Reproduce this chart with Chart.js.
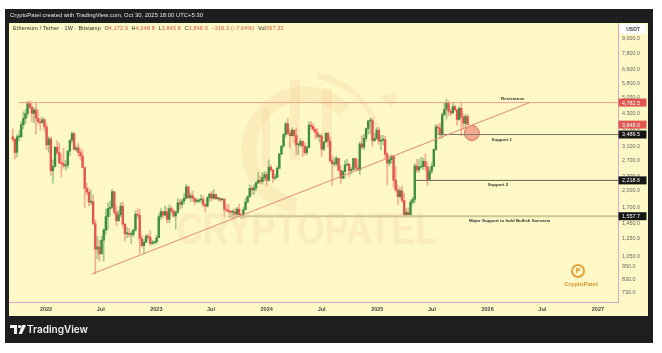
<!DOCTYPE html>
<html>
<head>
<meta charset="utf-8">
<script src="https://cdn.jsdelivr.net/npm/chart.js@4.4.1/dist/chart.umd.min.js"></script>
<style>
html, body { margin: 0; padding: 0; background: #fff; }
#wrap { position: relative; width: 662px; height: 353px; overflow: hidden; }
#chart { position: absolute; left: 0; top: 0; }
.txt { position: absolute; white-space: nowrap; line-height: 1; font-family: 'Liberation Sans', Arial, sans-serif; }
#hdr { left: 10px; top: 13px; font-size: 5.8px; color: #e6e6e6; letter-spacing: 0.05px; }
#sym { left: 13px; top: 26px; font-size: 5.4px; color: #2a2a2a; letter-spacing: 0.2px; }
#sym .r { color: #e0533f; }
#tv { left: 27px; top: 324px; font-family: Inter, 'Open Sans', sans-serif; font-weight: 600; font-size: 10px; color: #f2f2f2; }
</style>
</head>
<body>
<div id="wrap">
  <canvas id="chart" width="662" height="353"></canvas>
  <div class="txt" id="hdr">CryptoPatel created with TradingView.com, Oct 30, 2025 18:00 UTC+5:30</div>
  <div class="txt" id="sym">Ethereum / Tether · 1W · Bitstamp&nbsp;&nbsp;O<span class="r">4,172.9</span>&nbsp;&nbsp;H<span class="r">4,248.8</span>&nbsp;&nbsp;L<span class="r">3,845.8</span>&nbsp;&nbsp;C<span class="r">3,848.0</span>&nbsp;&nbsp;<span class="r">−318.3 (−7.64%)</span>&nbsp;&nbsp;Vol<span class="r">397.32</span></div>
  <div class="txt" id="tv">TradingView</div>
</div>
<script>
const DAY = 864e5;

// weekly candles, first one opens Mon 13 Sep 2021
const firstWeek = Date.UTC(2021, 8, 13);
const firstOpen = 3410;

const closes = [
  // 2021
  3330, 2925, 3410, 3415, 3845, 4085, 4290, 4730, 4570, 4300, 4450, 4090, 3960, 3920, 4040, 3760,
  // 2022
  3150, 3340, 2440, 2550, 3080, 2920, 2640, 2620, 2560, 2580, 2960, 3300, 3520, 3010, 3060, 2920, 2830,
  2520, 2050, 1975, 1790, 1800, 1450, 1125, 1150, 1075, 1230, 1360, 1550, 1680, 1700, 1985, 1620, 1490,
  1580, 1720, 1440, 1310, 1310, 1300, 1300, 1360, 1590, 1570, 1250, 1165, 1205, 1280, 1265, 1190, 1200, 1210,
  // 2023
  1260, 1550, 1630, 1575, 1630, 1510, 1680, 1640, 1560, 1620, 1780, 1750, 1810, 1860, 2080, 1870, 1910,
  1860, 1800, 1810, 1830, 1840, 1750, 1720, 1870, 1940, 1860, 1930, 1850, 1855, 1830, 1840, 1670, 1650,
  1630, 1620, 1620, 1590, 1670, 1580, 1560, 1660, 1790, 1890, 2050, 2020, 2060, 2160, 2220, 2190, 2280, 2350,
  // 2024
  2220, 2530, 2460, 2270, 2290, 2500, 2880, 3110, 3490, 3880, 3520, 3450, 3640, 3450, 3150, 3150, 3260, 3110,
  2920, 3070, 3830, 3780, 3670, 3560, 3420, 3440, 3020, 3240, 3530, 3270, 2690, 2610, 2610, 2760, 2450,
  2270, 2420, 2580, 2600, 2440, 2470, 2750, 2510, 2460, 3180, 3080, 3360, 3700, 3990, 4000, 3280, 3360, 3640,
  // 2025
  3270, 3300, 3320, 2870, 2630, 2720, 2820, 2220, 2020, 1890, 2000, 1820, 1580, 1620, 1580, 1790, 1840,
  2560, 2460, 2530, 2540, 2680, 2540, 2240, 2430, 2550, 3010, 3760, 3720, 3480, 4250, 4480, 4780, 4390,
  4320, 4600, 4450, 4050, 4520, 4150, 3900, 4166.3, 3848.0
];

const highs = [
  // 2021
  3680, 3350, 3480, 3630, 3960, 4370, 4460, 4830, 4868, 4770, 4550, 4780, 4450, 4100, 4150, 4100,
  // 2022
  3880, 3420, 3400, 2720, 3100, 3280, 3200, 2880, 3050, 2700, 2990, 3300, 3580, 3560, 3120, 3190, 3030,
  3000, 2530, 2160, 2050, 2020, 1920, 1500, 1280, 1230, 1280, 1380, 1670, 1780, 1810, 2030, 1990, 1720,
  1650, 1780, 1790, 1450, 1400, 1380, 1340, 1370, 1640, 1680, 1670, 1290, 1240, 1300, 1300, 1350, 1230, 1220,
  // 2023
  1290, 1590, 1680, 1640, 1720, 1690, 1740, 1720, 1660, 1640, 1850, 1840, 1840, 1950, 2140, 2100, 1960,
  2000, 1870, 1850, 1850, 1930, 1900, 1760, 1890, 1950, 1990, 2030, 1940, 1880, 1870, 1860, 1860, 1740,
  1750, 1650, 1660, 1680, 1700, 1750, 1600, 1700, 1860, 1910, 2130, 2100, 2130, 2200, 2400, 2320, 2400, 2430,
  // 2024
  2400, 2720, 2580, 2470, 2360, 2550, 2900, 3130, 3520, 3950, 4090, 3660, 3730, 3660, 3730, 3200, 3350, 3290,
  3220, 3120, 3950, 3970, 3890, 3720, 3700, 3500, 3520, 3250, 3560, 3560, 3400, 2830, 2780, 2820, 2760,
  2580, 2450, 2700, 2730, 2630, 2520, 2760, 2770, 2720, 3240, 3450, 3500, 3720, 4000, 4110, 4100, 3530, 3740,
  // 2025
  3740, 3450, 3460, 3430, 2930, 2800, 2850, 2830, 2550, 2120, 2060, 2100, 1950, 1690, 1690, 1830, 1880,
  2620, 2730, 2730, 2790, 2770, 2880, 2650, 2530, 2640, 3020, 3860, 3860, 3940, 4330, 4790, 4950, 4850,
  4490, 4770, 4660, 4460, 4590, 4760, 4290, 4250, 4248.8
];

const lows = [
  // 2021
  3260, 2740, 2800, 3280, 3380, 3690, 3900, 4150, 4510, 3970, 3920, 3500, 3870, 3640, 3900, 3600,
  // 2022
  3000, 2930, 2330, 2160, 2530, 2860, 2600, 2300, 2500, 2450, 2500, 2840, 3200, 3000, 2950, 2810, 2710,
  2500, 1700, 1930, 1720, 1740, 1430, 880, 1020, 1000, 1070, 1000, 1300, 1360, 1560, 1680, 1580, 1420,
  1480, 1550, 1400, 1220, 1260, 1270, 1190, 1270, 1340, 1530, 1075, 1150, 1080, 1200, 1230, 1160, 1180, 1180,
  // 2023
  1190, 1260, 1510, 1530, 1560, 1460, 1460, 1600, 1540, 1370, 1600, 1660, 1690, 1760, 1850, 1850, 1800,
  1800, 1740, 1780, 1780, 1780, 1710, 1625, 1710, 1800, 1820, 1840, 1840, 1820, 1800, 1820, 1550, 1630,
  1600, 1530, 1540, 1570, 1560, 1570, 1520, 1530, 1660, 1780, 1880, 1930, 1930, 2000, 2160, 2150, 2140, 2210,
  // 2024
  2100, 2200, 2420, 2170, 2230, 2270, 2490, 2860, 3080, 3400, 3500, 3060, 3430, 3210, 2850, 2860, 3090, 2810,
  2860, 2860, 3060, 3670, 3600, 3360, 3350, 3240, 2810, 2980, 3240, 3090, 2650, 2110, 2550, 2560, 2430,
  2150, 2250, 2260, 2560, 2310, 2360, 2470, 2440, 2450, 2350, 3030, 3000, 3260, 3500, 3520, 3100, 3270, 3320,
  // 2025
  3160, 3000, 3150, 2750, 2120, 2560, 2620, 2080, 1990, 1750, 1870, 1780, 1550, 1545, 1560, 1570, 1750,
  1780, 2400, 2400, 2500, 2470, 2440, 2110, 2220, 2370, 2540, 2980, 3500, 3350, 3360, 4200, 4060, 4210,
  4210, 4280, 4400, 3830, 4010, 3440, 3680, 3700, 3845.8
];

// price axis ticks (log scale)
const priceTicks = [730, 830, 950, 1050, 1250, 1450, 1700, 2000, 2300, 2700, 3100, 3700, 4300, 5050, 5800, 6600, 7800, 9000];

// time axis ticks
const timeTickDates = ['2022-01-01', '2022-07-01', '2023-01-01', '2023-07-01', '2024-01-01', '2024-07-01',
  '2025-01-01', '2025-07-01', '2026-01-01', '2026-07-01', '2027-01-01'];
const timeTickLabels = ['2022', 'Jul', '2023', 'Jul', '2024', 'Jul', '2025', 'Jul', '2026', 'Jul', '2027'];

// drawn levels
const levelNames = ['Resistance', 'Support 1', 'Support 2', 'Major Support to hold Bullish Scenario'];
const levelPrices = [4782.5, 3489.5, 2218.6, 1557.7];
const levelStarts = ['2021-10-02', '2025-07-20', '2025-05-06', '2023-08-24'];
const levelTextDates = ['2026-03-25', '2026-02-17', '2026-02-04', '2026-03-15'];

// rising trendline from the 2022 low
const trendDates = ['2022-06-01', '2026-05-20'];
const trendPrices = [880, 4782.5];

// highlighted retest circle
const circleDate = '2025-11-10';
const circlePrice = 3540;

// labels on the price axis
const axisLabelValues = [4782.5, 3848.0, 3489.5, 2218.6, 1557.7];
const axisLabelTexts = ['4,782.5', '3,848.0', '3,489.5', '2,218.6', '1,557.7'];
const axisLabelColors = ['#e0574f', '#e0574f', '#161616', '#161616', '#161616'];

const FONT = "'Liberation Sans', Arial, sans-serif";
const T0 = Date.UTC(2022, 0, 1);
const YEAR = 365.25 * DAY;
const PX_YEAR = 110.4;
const xMin = T0 - 37 / PX_YEAR * YEAR;
const xMax = T0 + 572 / PX_YEAR * YEAR;

const candles = closes.map((c, i) => ({
  t: firstWeek + i * 7 * DAY,
  o: i === 0 ? firstOpen : closes[i - 1],
  h: highs[i],
  l: lows[i],
  c: c
}));

const upBody = '#3a8e3c', downBody = '#e4544c';
const upWick = 'rgba(58,142,60,0.45)', downWick = 'rgba(228,84,76,0.45)';

function lineSet(x1, y1, x2, y2, color, width) {
  return {
    type: 'line',
    data: [{ x: x1, y: y1 }, { x: x2, y: y2 }],
    borderColor: color,
    borderWidth: width,
    pointRadius: 0,
    fill: false,
    order: 0
  };
}

const levelColors = ['#e9a08e', '#7d7b6b', '#66624f', '#cfc796'];
const levelWidths = [1, 1, 1, 2];

const datasets = [
  {
    label: 'wicks',
    data: candles.map(k => ({ x: k.t, y: [k.l, k.h] })),
    backgroundColor: candles.map(k => k.c >= k.o ? upWick : downWick),
    barThickness: 1,
    grouped: false,
    order: 3
  },
  {
    label: 'bodies',
    data: candles.map(k => ({ x: k.t, y: [k.o, k.c] })),
    backgroundColor: candles.map(k => k.c >= k.o ? upBody : downBody),
    barThickness: 1.7,
    minBarLength: 1,
    grouped: false,
    order: 2
  },
  lineSet(Date.parse(trendDates[0]), trendPrices[0], Date.parse(trendDates[1]), trendPrices[1], '#e58a77', 1)
];
levelPrices.forEach((p, i) => {
  datasets.push(lineSet(Date.parse(levelStarts[i]), p, xMax, p, levelColors[i], levelWidths[i]));
});
datasets.push({
  type: 'line',
  data: [{ x: Date.parse(circleDate), y: circlePrice }],
  showLine: false,
  pointRadius: 7.5,
  pointBackgroundColor: '#f5a98f',
  pointBorderColor: '#d8735c',
  pointBorderWidth: 1,
  order: 0
});

function fmt(v) {
  return v.toLocaleString('en-US', { minimumFractionDigits: 1, maximumFractionDigits: 1 });
}

// frame, header bar, watermark
const decor = {
  id: 'decor',
  beforeDraw(chart) {
    const c = chart.ctx;
    c.save();
    c.fillStyle = '#ffffff';
    c.fillRect(0, 0, 662, 353);
    c.fillStyle = '#1e1e1e';
    c.fillRect(5, 9, 648, 334);
    c.fillStyle = '#fdf8c5';
    c.fillRect(9, 23, 639, 293);
    c.restore();
  },
  beforeDatasetsDraw(chart) {
    const c = chart.ctx;
    c.save();
    // big ring watermark
    c.strokeStyle = 'rgba(240,165,110,0.13)';
    c.lineWidth = 15;
    c.beginPath();
    c.arc(305, 150, 56, Math.PI * 0.55, Math.PI * 1.75);
    c.stroke();
    c.lineWidth = 6;
    c.beginPath();
    c.arc(305, 150, 75, Math.PI * 1.55, Math.PI * 1.95);
    c.stroke();
    c.fillStyle = 'rgba(240,165,110,0.13)';
    c.beginPath();
    c.moveTo(398, 92); c.lineTo(380, 96); c.lineTo(392, 108);
    c.closePath(); c.fill();
    c.fillRect(262, 108, 8, 60);
    c.fillRect(290, 80, 10, 80);
    c.fillRect(322, 88, 10, 60);
    // watermark text
    c.translate(307, 244);
    c.scale(0.8, 1);
    c.font = 'bold 45px ' + FONT;
    c.textAlign = 'center';
    c.fillStyle = 'rgba(240,160,130,0.14)';
    c.fillText('CRYPTOPATEL', 0, 0);
    c.restore();
  },
  afterDatasetsDraw(chart) {
    const c = chart.ctx, xs = chart.scales.x, ys = chart.scales.y;
    c.save();
    c.font = 'bold 4.4px ' + FONT;
    c.fillStyle = '#333';
    c.textAlign = 'center';
    levelNames.forEach((name, i) => {
      const x = xs.getPixelForValue(Date.parse(levelTextDates[i]));
      const y = ys.getPixelForValue(levelPrices[i]);
      c.fillText(name, x, i === 0 ? y - 3 : y + 6);
    });
    c.restore();
  },
  afterDraw(chart) {
    const c = chart.ctx, ys = chart.scales.y;
    c.save();
    // price labels
    c.font = '5.4px ' + FONT;
    c.textBaseline = 'middle';
    axisLabelValues.forEach((v, i) => {
      const y = ys.getPixelForValue(v);
      c.fillStyle = axisLabelColors[i];
      c.fillRect(618.5, y - 4, 28, 8);
      c.fillStyle = '#ffffff';
      c.fillText(axisLabelTexts[i], 622, y + 0.5);
    });
    // USDT box
    c.fillStyle = '#ffffff';
    c.fillRect(620, 24, 26, 10);
    c.fillStyle = '#444';
    c.font = 'bold 5px ' + FONT;
    c.textAlign = 'center';
    c.fillText('USDT', 633, 29.5);
    // small logo bottom right
    c.strokeStyle = '#e6a23c';
    c.lineWidth = 2;
    c.beginPath();
    c.arc(578, 271, 6, 0, Math.PI * 2);
    c.stroke();
    c.fillStyle = '#d98f2b';
    c.font = 'bold 7px ' + FONT;
    c.fillText('P', 578, 271.5);
    c.font = 'bold 6px ' + FONT;
    c.fillText('CryptoPatel', 581, 284);
    // TradingView logo mark
    c.fillStyle = '#f2f2f2';
    c.fillRect(10, 325, 7, 3);
    c.fillRect(14, 325, 3, 9);
    c.beginPath();
    c.arc(19.5, 326.5, 1.6, 0, Math.PI * 2);
    c.fill();
    c.beginPath();
    c.moveTo(22, 325); c.lineTo(26, 325); c.lineTo(22, 334); c.lineTo(18.6, 334);
    c.closePath(); c.fill();
    c.restore();
  }
};

new Chart(document.getElementById('chart'), {
  type: 'bar',
  data: { datasets: datasets },
  options: {
    responsive: false,
    animation: false,
    layout: { padding: { left: 9, top: 23, right: 14, bottom: 37 } },
    plugins: { legend: { display: false }, tooltip: { enabled: false } },
    scales: {
      x: {
        type: 'linear',
        min: xMin,
        max: xMax,
        offset: false,
        afterBuildTicks: s => { s.ticks = timeTickDates.map(d => ({ value: Date.parse(d) })); },
        afterFit: s => { s.height = 14; },
        ticks: {
          callback: (v, i) => timeTickLabels[i],
          autoSkip: false,
          maxRotation: 0,
          padding: 4,
          color: '#4a4a4a',
          font: { size: 5.5, weight: 'bold', family: FONT }
        },
        grid: { display: true, drawOnChartArea: false, drawTicks: false, color: 'rgba(0,0,0,0)' },
        border: { display: true, color: '#d9a8c8' }
      },
      y: {
        type: 'logarithmic',
        position: 'right',
        min: 668,
        max: 10490,
        afterBuildTicks: s => { s.ticks = priceTicks.map(v => ({ value: v })); },
        afterFit: s => { s.width = 30; },
        ticks: {
          callback: v => fmt(v),
          autoSkip: false,
          padding: 4,
          color: '#666',
          font: { size: 5.4, family: FONT }
        },
        grid: { display: true, drawOnChartArea: false, drawTicks: false, color: 'rgba(0,0,0,0)' },
        border: { display: true, color: '#d9a8c8' }
      }
    }
  },
  plugins: [decor]
});
</script>
</body>
</html>
